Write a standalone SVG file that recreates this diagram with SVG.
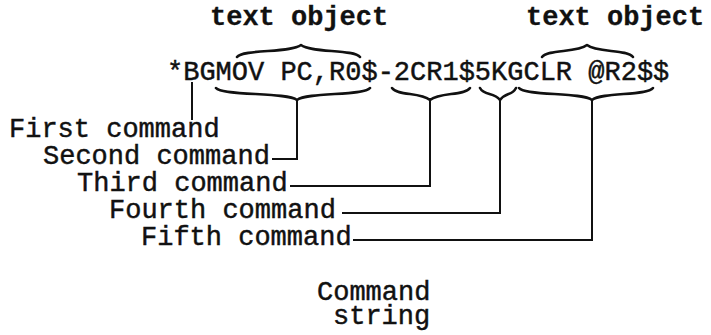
<svg xmlns="http://www.w3.org/2000/svg" width="711" height="335" viewBox="0 0 711 335">
  <style>
    .mono { font-family: "Liberation Mono", "DejaVu Sans Mono", monospace; font-size: 27px; fill: #111; stroke: #111; stroke-width: 0.45px; }
    .head { font-weight: bold; stroke-width: 0.3px; }
    .brace { fill: none; stroke: #111; stroke-width: 2.6; stroke-linecap: round; stroke-linejoin: round; }
    .lead { fill: none; stroke: #111; stroke-width: 2; stroke-linecap: square; }
  </style>
  <rect width="711" height="335" fill="#fff"/>

  <!-- headings above the string -->
  <g id="text-object-1"><text class="mono head" x="210" y="25">text object</text></g>
  <g id="text-object-2"><text class="mono head" x="526" y="25">text object</text></g>

  <!-- the command string itself -->
  <g id="command-string-line"><text class="mono" x="167" y="80">*BGMOV PC,R0$-2CR1$5KGCLR @R2$$</text></g>

  <!-- braces: two above, four below the string -->
  <g id="braces">
    <path class="brace" d="M237,57 C243,49 291,53 301,45 C311,53 354,49 360,57"/>
    <path class="brace" d="M542,57 C548,49 577,53 587,45 C597,53 627,49 633,57"/>
    <path class="brace" d="M216,88 C222,96 287,92 297,100 C307,92 364,96 370,88"/>
    <path class="brace" d="M392,88 C398,96 420,92 430,100 C440,92 464,96 470,88"/>
    <path class="brace" d="M480,88 C484,96 494,92 500,100 C506,92 512,96 516,88"/>
    <path class="brace" d="M519,88 C525,96 582,92 592,100 C602,92 647,96 653,88"/>
  </g>

  <!-- leader lines from the string to each command label -->
  <g id="connectors">
    <path class="lead" d="M192,83 V119"/>
    <path class="lead" d="M297,100 V159 H273"/>
    <path class="lead" d="M430,100 V186 H291"/>
    <path class="lead" d="M500,100 V213 H343"/>
    <path class="lead" d="M592,100 V240 H354"/>
  </g>

  <g id="first-command"><text class="mono" x="9" y="137">First command</text></g>
  <g id="second-command"><text class="mono" x="43" y="164">Second command</text></g>
  <g id="third-command"><text class="mono" x="77" y="191">Third command</text></g>
  <g id="fourth-command"><text class="mono" x="109" y="218">Fourth command</text></g>
  <g id="fifth-command"><text class="mono" x="141" y="245">Fifth command</text></g>

  <!-- two-line caption -->
  <g id="caption">
    <text class="mono"><tspan x="317" y="300">Command</tspan><tspan x="333" y="324">string</tspan></text>
  </g>
</svg>
